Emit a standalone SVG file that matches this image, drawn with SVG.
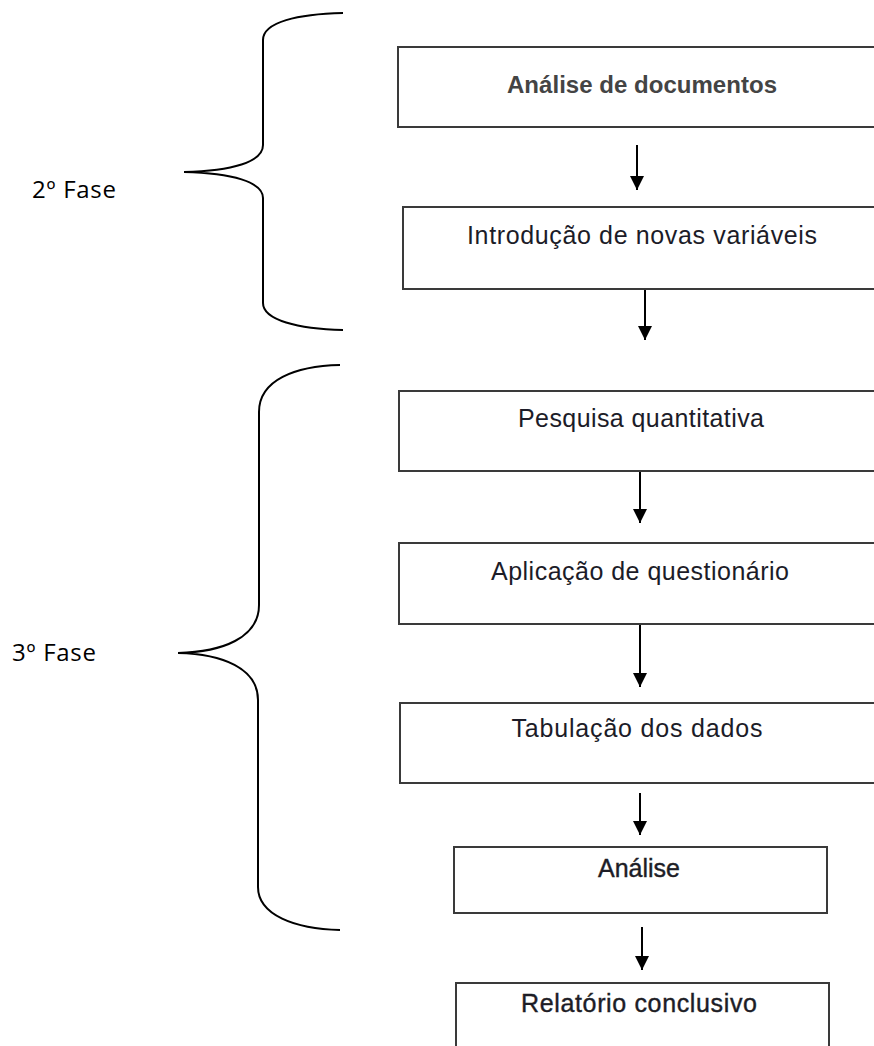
<svg xmlns="http://www.w3.org/2000/svg" width="874" height="1046" viewBox="0 0 874 1046">
<style>
.box{fill:#fff;stroke:#3a3a3a;stroke-width:2}
.t{font-family:"Liberation Sans",Arial,sans-serif;font-size:25px;fill:#1c1c28;text-anchor:middle}
.b{font-weight:bold;fill:#444;font-size:24px}
.m{stroke:#222;stroke-width:0.4}
.ph{font-family:"Open Sans","Noto Sans",sans-serif;font-size:24px;fill:#000}
.brace{fill:none;stroke:#000;stroke-width:2}
.arr{stroke:#000;stroke-width:2;fill:none}
</style>
<defs>
<marker id="ah" viewBox="0 0 14 14" refX="14" refY="7" markerWidth="14" markerHeight="14" markerUnits="userSpaceOnUse" orient="auto">
<path d="M0,0 L14,7 L0,14 z" fill="#000"/>
</marker>
</defs>
<rect width="874" height="1046" fill="#fff"/>
<g id="brace2">
<path class="brace" d="M343,13 C298,14 263,22 263,40 L263,145 C263,162 232,171 184,172 C232,173 263,182 263,198 L263,303 C263,320 298,329 343,330"/>
<text class="ph" x="32" y="198" textLength="84">2º Fase</text>
</g>
<g id="brace3">
<path class="brace" d="M340,365 C295,366 259,380 259,412 L259,605 C259,638 222,652 178,653 C222,654 258,668 258,700 L258,887 C258,915 295,929 340,930"/>
<text class="ph" x="12" y="661" textLength="84">3º Fase</text>
</g>
<g id="n1"><rect class="box" x="398" y="47" width="490" height="80"/><text class="t b" x="642" y="93" textLength="270">Análise de documentos</text></g>
<g id="n2"><rect class="box" x="403" y="207" width="490" height="82"/><text class="t" x="642" y="244" textLength="350">Introdução de novas variáveis</text></g>
<g id="n3"><rect class="box" x="399" y="391" width="490" height="80"/><text class="t" x="641" y="427" textLength="246">Pesquisa  quantitativa</text></g>
<g id="n4"><rect class="box" x="399" y="543" width="490" height="81"/><text class="t" x="640" y="580" textLength="298">Aplicação  de questionário</text></g>
<g id="n5"><rect class="box" x="400" y="703" width="490" height="80"/><text class="t" x="637" y="737" textLength="251">Tabulação  dos dados</text></g>
<g id="n6"><rect class="box" x="454" y="847" width="373" height="66"/><text class="t m" x="639" y="877" textLength="82">Análise</text></g>
<g id="n7"><rect class="box" x="456" y="983" width="373" height="80"/><text class="t m" x="639" y="1012" textLength="236">Relatório  conclusivo</text></g>
<g id="connectors">
<line class="arr" x1="637" y1="145" x2="637" y2="190" marker-end="url(#ah)"/>
<line class="arr" x1="645" y1="290" x2="645" y2="340" marker-end="url(#ah)"/>
<line class="arr" x1="640" y1="472" x2="640" y2="523" marker-end="url(#ah)"/>
<line class="arr" x1="640" y1="625" x2="640" y2="687" marker-end="url(#ah)"/>
<line class="arr" x1="640" y1="793" x2="640" y2="835" marker-end="url(#ah)"/>
<line class="arr" x1="642" y1="927" x2="642" y2="970" marker-end="url(#ah)"/>
</g>
</svg>
